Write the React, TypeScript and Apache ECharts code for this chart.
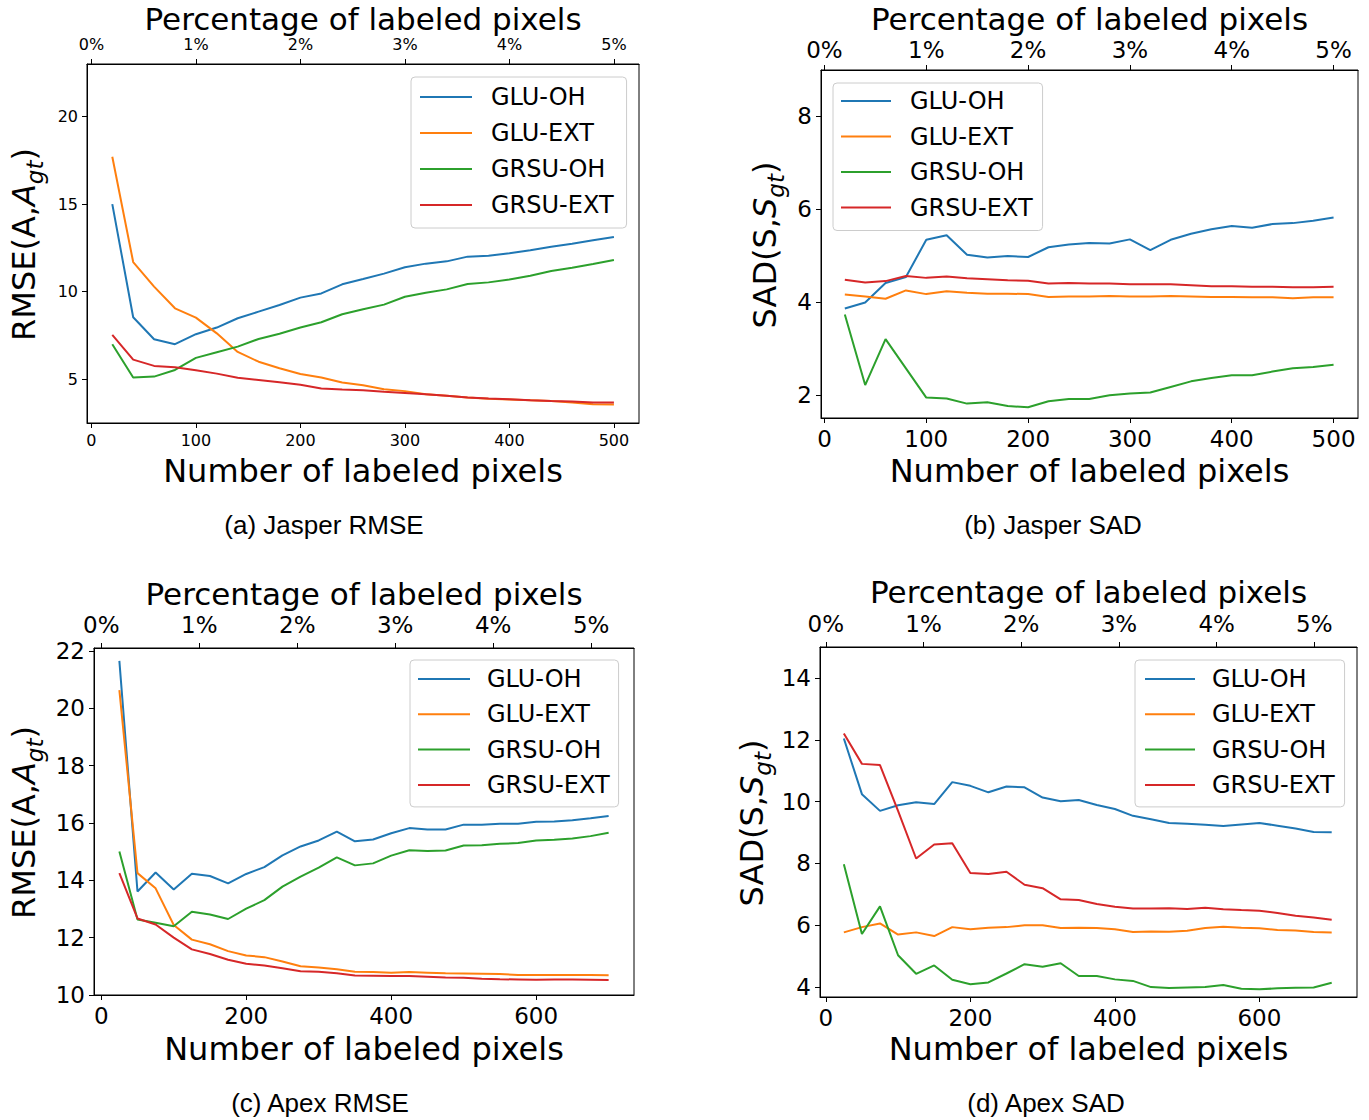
import React, { useEffect, useRef } from "react";
import * as echarts from "echarts";

// ---------- data ----------
const seriesNames = ["GLU-OH", "GLU-EXT", "GRSU-OH", "GRSU-EXT"];
const seriesColors = ["#1f77b4", "#ff7f0e", "#2ca02c", "#d62728"];

const jasperPixels = [20, 40, 60, 80, 100, 120, 140, 160, 180, 200, 220, 240, 260, 280, 300, 320, 340, 360, 380, 400, 420, 440, 460, 480, 500];
const apexPixels = [25, 50, 75, 100, 125, 150, 175, 200, 225, 250, 275, 300, 325, 350, 375, 400, 425, 450, 475, 500, 525, 550, 575, 600, 625, 650, 675, 700];

// (a) Jasper RMSE
const jasperRmseGluOh = [15.0, 8.54, 7.28, 7.0, 7.57, 7.95, 8.48, 8.86, 9.24, 9.66, 9.9, 10.42, 10.72, 11.03, 11.39, 11.6, 11.73, 12.0, 12.05, 12.19, 12.36, 12.57, 12.74, 12.93, 13.12];
const jasperRmseGluExt = [17.7, 11.69, 10.29, 9.05, 8.52, 7.62, 6.56, 6.0, 5.63, 5.3, 5.1, 4.81, 4.66, 4.43, 4.32, 4.14, 4.05, 3.95, 3.88, 3.84, 3.8, 3.75, 3.67, 3.57, 3.56];
const jasperRmseGrsuOh = [7.0, 5.1, 5.15, 5.53, 6.22, 6.54, 6.86, 7.3, 7.6, 7.95, 8.25, 8.71, 8.99, 9.26, 9.71, 9.94, 10.13, 10.44, 10.53, 10.7, 10.91, 11.18, 11.37, 11.58, 11.81];
const jasperRmseGrsuExt = [7.53, 6.12, 5.76, 5.68, 5.51, 5.32, 5.08, 4.96, 4.83, 4.68, 4.47, 4.41, 4.37, 4.28, 4.22, 4.14, 4.05, 3.95, 3.9, 3.86, 3.8, 3.76, 3.73, 3.67, 3.67];

// (b) Jasper SAD
const jasperSadGluOh = [3.86, 3.99, 4.41, 4.54, 5.34, 5.44, 5.02, 4.96, 4.99, 4.97, 5.18, 5.24, 5.27, 5.26, 5.35, 5.12, 5.34, 5.47, 5.57, 5.64, 5.6, 5.68, 5.7, 5.75, 5.82];
const jasperSadGluExt = [4.16, 4.12, 4.07, 4.25, 4.17, 4.23, 4.2, 4.18, 4.18, 4.17, 4.11, 4.12, 4.12, 4.13, 4.12, 4.12, 4.13, 4.12, 4.11, 4.11, 4.1, 4.1, 4.08, 4.1, 4.1];
const jasperSadGrsuOh = [3.73, 2.21, 3.2, 2.57, 1.94, 1.92, 1.81, 1.84, 1.76, 1.73, 1.86, 1.91, 1.91, 1.99, 2.03, 2.05, 2.17, 2.29, 2.36, 2.42, 2.42, 2.5, 2.57, 2.6, 2.65];
const jasperSadGrsuExt = [4.48, 4.42, 4.45, 4.56, 4.52, 4.55, 4.51, 4.49, 4.47, 4.46, 4.4, 4.41, 4.4, 4.4, 4.38, 4.38, 4.38, 4.36, 4.34, 4.34, 4.33, 4.33, 4.32, 4.32, 4.33];

// (c) Apex RMSE
const apexRmseGluOh = [21.65, 13.61, 14.27, 13.68, 14.23, 14.15, 13.89, 14.22, 14.46, 14.87, 15.18, 15.39, 15.7, 15.36, 15.42, 15.64, 15.82, 15.77, 15.77, 15.94, 15.94, 15.97, 15.97, 16.04, 16.05, 16.09, 16.16, 16.24];
const apexRmseGluExt = [20.63, 14.25, 13.72, 12.44, 11.93, 11.77, 11.53, 11.38, 11.32, 11.17, 11.0, 10.96, 10.9, 10.81, 10.8, 10.78, 10.8, 10.78, 10.76, 10.75, 10.74, 10.73, 10.7, 10.7, 10.7, 10.7, 10.7, 10.69];
const apexRmseGrsuOh = [15.0, 12.63, 12.52, 12.4, 12.9, 12.81, 12.65, 13.01, 13.31, 13.78, 14.13, 14.44, 14.8, 14.52, 14.59, 14.86, 15.05, 15.02, 15.04, 15.21, 15.22, 15.27, 15.3, 15.39, 15.41, 15.46, 15.54, 15.66];
const apexRmseGrsuExt = [14.25, 12.67, 12.46, 12.0, 11.59, 11.43, 11.23, 11.09, 11.03, 10.93, 10.83, 10.81, 10.76, 10.68, 10.67, 10.66, 10.66, 10.64, 10.61, 10.6, 10.57, 10.55, 10.54, 10.53, 10.54, 10.54, 10.53, 10.52];

// (d) Apex SAD
const apexSadGluOh = [12.04, 10.24, 9.7, 9.88, 9.98, 9.92, 10.63, 10.51, 10.3, 10.49, 10.46, 10.13, 10.01, 10.05, 9.89, 9.76, 9.54, 9.43, 9.31, 9.28, 9.25, 9.21, 9.26, 9.31, 9.22, 9.13, 9.02, 9.01];
const apexSadGluExt = [5.77, 5.94, 6.06, 5.7, 5.77, 5.65, 5.94, 5.87, 5.92, 5.94, 6.0, 6.0, 5.91, 5.92, 5.91, 5.87, 5.78, 5.8, 5.79, 5.82, 5.91, 5.95, 5.92, 5.9, 5.85, 5.83, 5.78, 5.77];
const apexSadGrsuOh = [7.97, 5.72, 6.61, 5.03, 4.43, 4.7, 4.24, 4.09, 4.15, 4.44, 4.74, 4.66, 4.77, 4.36, 4.36, 4.25, 4.2, 4.0, 3.97, 3.99, 4.0, 4.07, 3.95, 3.93, 3.96, 3.98, 3.99, 4.14];
const apexSadGrsuExt = [12.2, 11.22, 11.18, 9.7, 8.16, 8.61, 8.65, 7.69, 7.66, 7.73, 7.31, 7.2, 6.84, 6.82, 6.69, 6.6, 6.54, 6.54, 6.55, 6.53, 6.57, 6.52, 6.49, 6.47, 6.4, 6.31, 6.25, 6.18];

// tick values
const jasperXTicks = [0, 100, 200, 300, 400, 500];
const apexXTicks = [0, 200, 400, 600];
const jasperPctTicks = [0, 100, 200, 300, 400, 500];
const apexPctTicks = [0, 135.2, 270.4, 405.6, 540.8, 676];
const pctLabels = ["0%", "1%", "2%", "3%", "4%", "5%"];
const rmseJasperYTicks = [5, 10, 15, 20];
const sadJasperYTicks = [2, 4, 6, 8];
const rmseApexYTicks = [10, 12, 14, 16, 18, 20, 22];
const sadApexYTicks = [4, 6, 8, 10, 12, 14];

const captions = ["(a) Jasper RMSE", "(b) Jasper SAD", "(c) Apex RMSE", "(d) Apex SAD"];

const MPL = "'DejaVu Sans', sans-serif";
const CAP = "'Liberation Sans', Arial, sans-serif";

const panels = [
  {
    grid: { left: 87, top: 64, width: 552, height: 359 },
    xMin: -4.2, xMax: 524, yMin: 2.5, yMax: 23,
    xTicks: jasperXTicks, pctTicks: jasperPctTicks, yTicks: rmseJasperYTicks,
    x: jasperPixels,
    data: [jasperRmseGluOh, jasperRmseGluExt, jasperRmseGrsuOh, jasperRmseGrsuExt],
    tickFont: 16, topMargin: 12, kind: "RMSE", sym: "A",
    legend: { left: 411, top: 77, padding: [8, 13, 11, 9], itemWidth: 52, itemGap: 12, textPad: 14 },
    yLabelX: 24, titleY: 19, xNameY: 471, captionX: 324, captionY: 525,
  },
  {
    grid: { left: 821, top: 70, width: 537, height: 348 },
    xMin: -3.4, xMax: 524, yMin: 1.5, yMax: 9.0,
    xTicks: jasperXTicks, pctTicks: jasperPctTicks, yTicks: sadJasperYTicks,
    x: jasperPixels,
    data: [jasperSadGluOh, jasperSadGluExt, jasperSadGrsuOh, jasperSadGrsuExt],
    tickFont: 23, topMargin: 9, kind: "SAD", sym: "S",
    legend: { left: 833, top: 83, padding: [6, 10, 11, 8], itemWidth: 50, itemGap: 11.5, textPad: 14 },
    yLabelX: 765, titleY: 19, xNameY: 471, captionX: 1053, captionY: 525,
  },
  {
    grid: { left: 94, top: 648, width: 540, height: 347 },
    xMin: -10, xMax: 735, yMin: 10, yMax: 22.1,
    xTicks: apexXTicks, pctTicks: apexPctTicks, yTicks: rmseApexYTicks,
    x: apexPixels,
    data: [apexRmseGluOh, apexRmseGluExt, apexRmseGrsuOh, apexRmseGrsuExt],
    tickFont: 23, topMargin: 12, kind: "RMSE", sym: "A",
    legend: { left: 410, top: 660, padding: [7, 9, 10, 8], itemWidth: 52, itemGap: 11.3, textPad: 12 },
    yLabelX: 24, titleY: 594, xNameY: 1049, captionX: 320, captionY: 1103,
  },
  {
    grid: { left: 820, top: 647, width: 537, height: 350 },
    xMin: -8, xMax: 735, yMin: 3.68, yMax: 15.0,
    xTicks: apexXTicks, pctTicks: apexPctTicks, yTicks: sadApexYTicks,
    x: apexPixels,
    data: [apexSadGluOh, apexSadGluExt, apexSadGrsuOh, apexSadGrsuExt],
    tickFont: 23, topMargin: 12, kind: "SAD", sym: "S",
    legend: { left: 1135, top: 660, padding: [7, 10, 10, 10], itemWidth: 50, itemGap: 11.3, textPad: 12 },
    yLabelX: 752, titleY: 592, xNameY: 1049, captionX: 1046, captionY: 1103,
  },
];

export default function App() {
  const ref = useRef<HTMLDivElement>(null);

  useEffect(() => {
    if (!ref.current) return;
    const chart = echarts.init(ref.current, undefined, { renderer: "svg" });

    const grids: any[] = [];
    const xAxes: any[] = [];
    const yAxes: any[] = [];
    const series: any[] = [];
    const legends: any[] = [];
    const graphics: any[] = [];

    const axisCommon = (fontSize: number) => ({
      axisLine: { show: true, onZero: false, lineStyle: { color: "#000", width: 1 } },
      splitLine: { show: false },
      axisLabel: { color: "#000", fontSize, lineHeight: fontSize, fontFamily: MPL },
    });

    panels.forEach((p, i) => {
      grids.push({ ...p.grid, show: true, borderColor: "#000", borderWidth: 1, backgroundColor: "transparent" });
      const ac = axisCommon(p.tickFont);
      // bottom x
      xAxes.push({
        type: "value", gridIndex: i, position: "bottom", min: p.xMin, max: p.xMax,
        ...ac,
        axisTick: { show: true, length: 5, customValues: p.xTicks, lineStyle: { color: "#000" } },
        axisLabel: { ...ac.axisLabel, customValues: p.xTicks, margin: 9, formatter: (v: number) => String(Math.round(v)) },
      });
      // top x (percentage)
      xAxes.push({
        type: "value", gridIndex: i, position: "top", min: p.xMin, max: p.xMax,
        ...ac,
        axisTick: { show: true, length: 5, customValues: p.pctTicks, lineStyle: { color: "#000" } },
        axisLabel: {
          ...ac.axisLabel, customValues: p.pctTicks, margin: p.topMargin,
          formatter: (v: number) => {
            let best = 0; let bd = Infinity;
            p.pctTicks.forEach((t, k) => { const d = Math.abs(t - v); if (d < bd) { bd = d; best = k; } });
            return pctLabels[best];
          },
        },
      });
      yAxes.push({
        type: "value", gridIndex: i, position: "left", min: p.yMin, max: p.yMax,
        ...ac,
        axisTick: { show: true, length: 5, customValues: p.yTicks, lineStyle: { color: "#000" } },
        axisLabel: { ...ac.axisLabel, customValues: p.yTicks, margin: 9, formatter: (v: number) => String(Math.round(v)) },
      });

      p.data.forEach((vals, k) => {
        series.push({
          name: seriesNames[k], type: "line", xAxisIndex: i * 2, yAxisIndex: i,
          data: p.x.map((px, j) => [px, vals[j]]),
          symbol: "none", showSymbol: false,
          lineStyle: { color: seriesColors[k], width: 2 },
          itemStyle: { color: seriesColors[k] },
          z: 2,
        });
      });

      legends.push({
        left: p.legend.left, top: p.legend.top, orient: "vertical",
        data: seriesNames, selectedMode: false, icon: "rect",
        itemWidth: p.legend.itemWidth, itemHeight: 2, itemGap: p.legend.itemGap,
        padding: p.legend.padding,
        backgroundColor: "rgba(255,255,255,0.8)", borderColor: "#cccccc", borderWidth: 1, borderRadius: 4,
        textStyle: { fontSize: 24, lineHeight: 24, color: "#000", fontFamily: MPL, padding: [0, 0, 0, p.legend.textPad] },
      });

      const cx = p.grid.left + p.grid.width / 2;
      const cy = p.grid.top + p.grid.height / 2;
      graphics.push({
        type: "text", x: cx, y: p.titleY,
        style: { text: "Percentage of labeled pixels", font: `31px ${MPL}`, lineHeight: 24, fill: "#000", align: "center", verticalAlign: "middle" },
      });
      graphics.push({
        type: "text", x: cx, y: p.xNameY,
        style: { text: "Number of labeled pixels", font: `32px ${MPL}`, lineHeight: 30, fill: "#000", align: "center", verticalAlign: "middle" },
      });
      graphics.push({
        type: "text", x: p.captionX, y: p.captionY,
        style: { text: captions[i], font: `26px ${CAP}`, fill: "#000", align: "center", verticalAlign: "middle" },
      });
      graphics.push({
        type: "text", x: p.yLabelX, y: cy + 1, rotation: Math.PI / 2,
        style: {
          text: `{n|${p.kind}(${p.sym},}{i|${p.sym}}{s|gt}{n|)}`,
          align: "center", verticalAlign: "middle", fill: "#000",
          rich: {
            n: { fontSize: 32, fontFamily: MPL, lineHeight: 44, verticalAlign: "middle", fill: "#000" },
            i: { fontSize: 32, fontFamily: MPL, fontStyle: "italic", lineHeight: 44, verticalAlign: "middle", fill: "#000" },
            s: { fontSize: 23, fontFamily: MPL, fontStyle: "italic", lineHeight: 23, verticalAlign: "bottom", fill: "#000" },
          },
        },
      });
    });

    chart.setOption({
      animation: false,
      backgroundColor: "#ffffff",
      grid: grids,
      xAxis: xAxes,
      yAxis: yAxes,
      series,
      legend: legends,
      graphic: graphics,
    });

    return () => chart.dispose();
  }, []);

  return <div ref={ref} style={{ position: "absolute", left: 0, top: 0, width: 1369, height: 1120 }} />;
}
